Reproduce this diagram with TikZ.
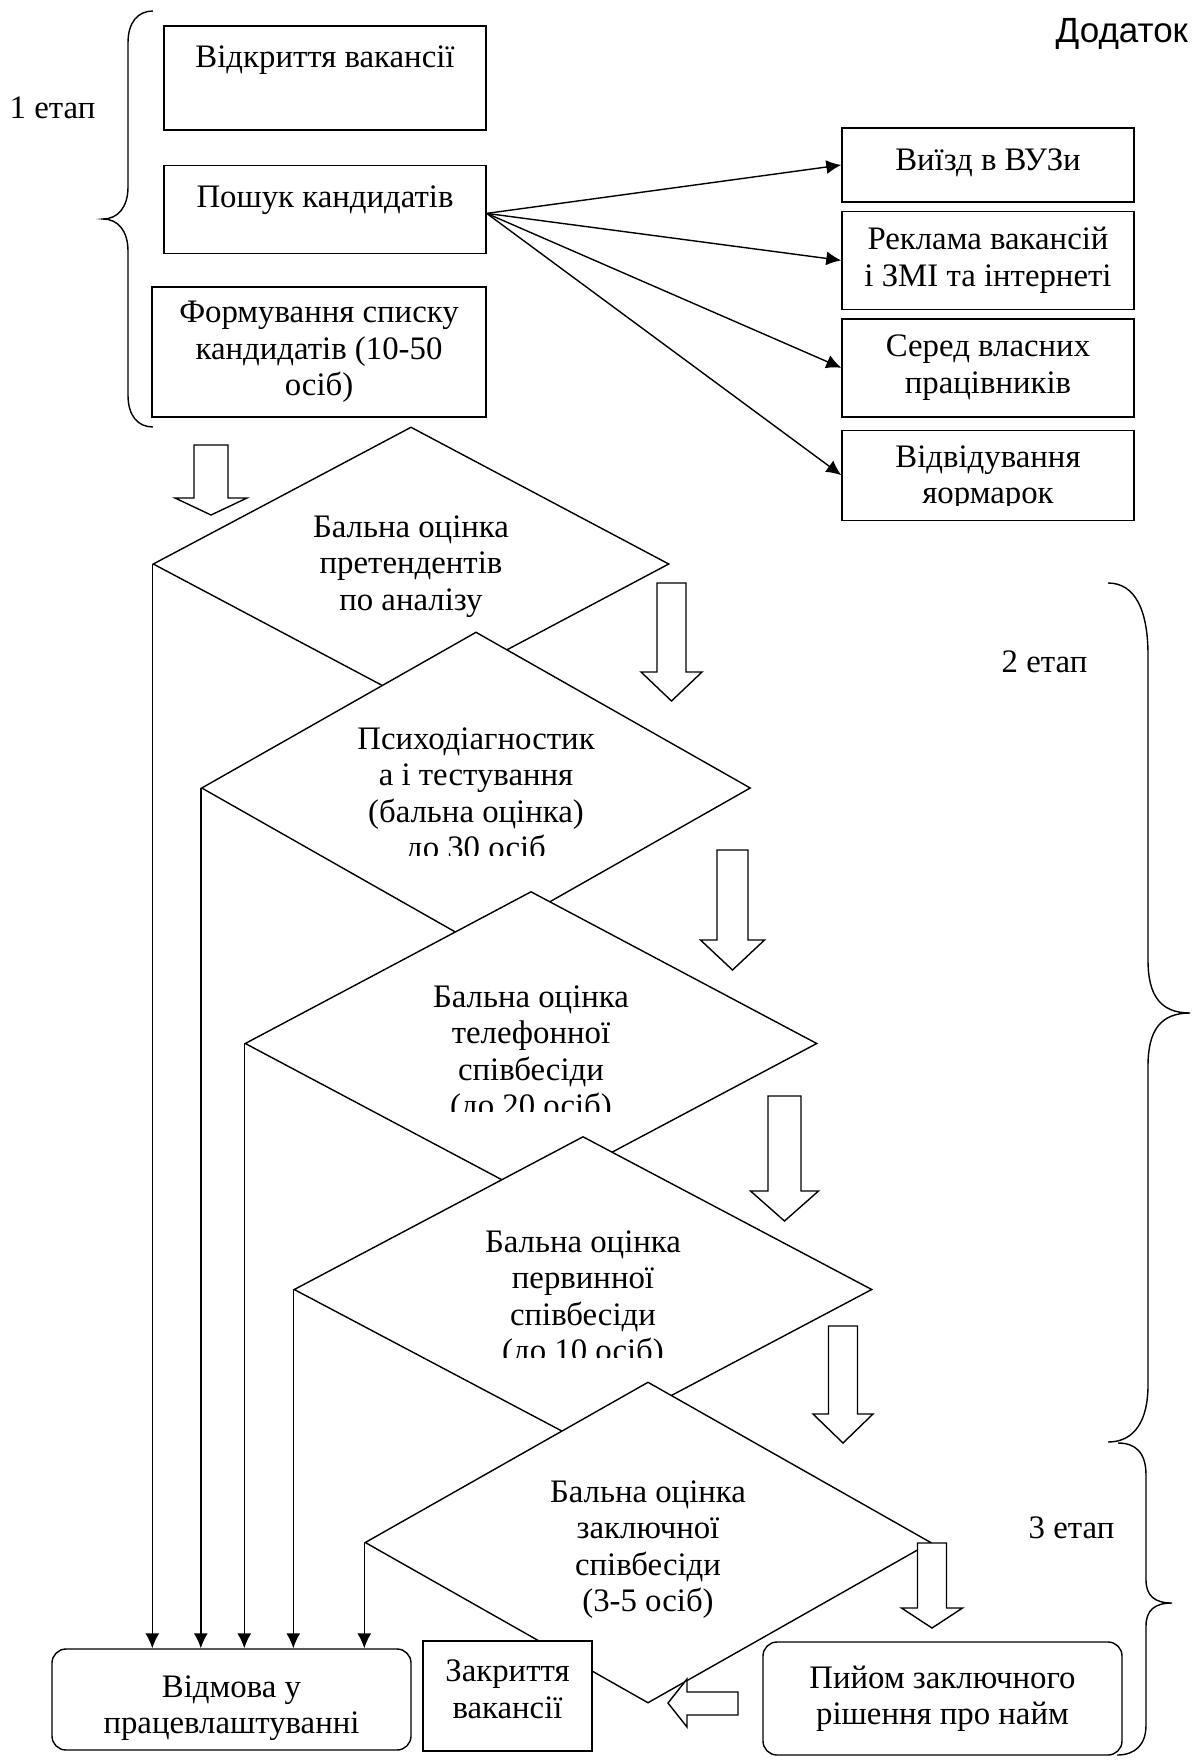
\documentclass[tikz,border=0pt]{standalone}
\usepackage{fontspec}
\setmainfont{Liberation Serif}
\newfontfamily\appfont{Liberation Sans}
\usetikzlibrary{arrows.meta,positioning,shapes.geometric}

\begin{document}
\begin{tikzpicture}[
x=0.5pt, y=-0.5pt, line width=0.7pt,
every node/.style={font=\fontsize{16.4}{18.25}\selectfont},
stagelbl/.style={anchor=west, inner sep=0pt},
procbox/.style={draw, fill=white, inner sep=0pt, align=center},
roundbox/.style={procbox, rounded corners=7pt},
decision/.style={diamond, draw, fill=white, inner sep=0pt},
dlabel/.style={align=center, anchor=north, inner sep=0pt},
lift/.style={text depth=#1},
arr/.style={-{Latex[length=7.5pt, width=7pt]}},
blockarr/.style={draw, fill=white, line join=miter}
]
\useasboundingbox (0,0) rectangle (1192,1760);

% Stage labels and braces
\node[anchor=base west, inner sep=0pt, font=\appfont\fontsize{17.5}{19}\selectfont] (app) at (1055,43) {Додаток};
\node[stagelbl] (st1) at (9,108) {1 етап};
\node[stagelbl] (st2) at (1001,662) {2 етап};
\node[stagelbl] (st3) at (1028,1528) {3 етап};
\draw (153,11) .. controls (138,11) and (128,22) .. (128,43) -- (128,187)
  .. controls (128,207) and (118,219) .. (103,219)
  .. controls (118,219) and (128,231) .. (128,251) -- (128,395)
  .. controls (128,416) and (138,427) .. (153,427);
\draw (1108,583) .. controls (1135,583) and (1148,610) .. (1148,655) -- (1148,960)
  .. controls (1148,995) and (1160,1013) .. (1190,1013)
  .. controls (1160,1013) and (1148,1031) .. (1148,1066) -- (1148,1385)
  .. controls (1148,1420) and (1135,1442) .. (1108,1442);
\draw (1118,1443) .. controls (1135,1443) and (1146,1452) .. (1146,1475) -- (1146,1580)
  .. controls (1146,1596) and (1155,1603) .. (1172,1603)
  .. controls (1155,1603) and (1146,1610) .. (1146,1626) -- (1146,1725)
  .. controls (1146,1745) and (1135,1755) .. (1117,1755);

% Stage 1
\node[procbox, minimum width=161pt, minimum height=52pt, lift=21pt] (open) at (325,78) {Відкриття вакансії};
\node[procbox, minimum width=161pt, minimum height=44pt, lift=12.5pt, below=17pt of open] (srch) {Пошук кандидатів};
\node[procbox, minimum width=167pt, minimum height=65pt, below=16pt of srch.south east, anchor=north east] (list) {Формування списку\\кандидатів (10-50\\осіб)};

% Search channels
\node[procbox, minimum width=146pt, minimum height=37pt, lift=5pt] (uni) at (988,165) {Виїзд в ВУЗи};
\node[procbox, minimum width=146pt, minimum height=49pt, below=4pt of uni] (ads) {Реклама вакансій\\і ЗМІ та інтернеті};
\node[procbox, minimum width=146pt, minimum height=49pt, below=4pt of ads] (staff) {Серед власних\\працівників};
\node[procbox, minimum width=146pt, minimum height=45pt, below=6pt of staff] (fair) {};
\begin{scope}
\clip (842,430) rectangle (1134,505);
\node[dlabel] (fairtxt) at (988,445) {Відвідування\\яормарок};
\end{scope}
\foreach \t in {uni,ads,staff,fair}
  \draw[arr] ([yshift=-2pt]srch.east) -- (\t.west);

% Stage 2 and 3 checks
\node[decision, minimum width=258pt, minimum height=137pt] (d1) at (411,564) {};
\node[dlabel] (t1) at (411,515) {Бальна оцінка\\претендентів\\по аналізу};
\node[decision, minimum width=274.5pt, minimum height=156pt] (d2) at (476,788) {};
\begin{scope}
\clip (210,700) rectangle (740,855);
\node[dlabel] (t2) at (476,727) {Психодіагностик\\а і тестування\\(бальна оцінка)\\до 30 осіб};
\end{scope}
\node[decision, minimum width=286pt, minimum height=152pt] (d3) at (531,1043.5) {};
\begin{scope}
\clip (260,960) rectangle (800,1111);
\node[dlabel] (t3) at (531,985) {Бальна оцінка\\телефонної\\співбесіди\\(до 20 осіб)};
\end{scope}
\node[decision, minimum width=289pt, minimum height=153pt] (d4) at (583,1289.5) {};
\begin{scope}
\clip (310,1200) rectangle (860,1357);
\node[dlabel] (t4) at (583,1230) {Бальна оцінка\\первинної\\співбесіди\\(до 10 осіб)};
\end{scope}
\node[decision, minimum width=283pt, minimum height=160.5pt] (d5) at (648,1542.5) {};
\node[dlabel] (t5) at (648,1480) {Бальна оцінка\\заключної\\співбесіди\\(3-5 осіб)};

% Hollow flow arrows
\foreach \cx/\yt/\yh/\yb/\sw/\hw in {211/445/498/515/17/36, 671.5/583/672/701/14.5/30.5,
  732.5/850/940/970/15.5/32, 784.5/1096/1191/1221/16.5/34, 843/1326/1414/1443/14.5/30,
  932/1543/1608/1628/14.5/30.5}
  \draw[blockarr] ({\cx-\sw},\yt) -- ({\cx+\sw},\yt) -- ({\cx+\sw},\yh) -- ({\cx+\hw},\yh)
    -- (\cx,\yb) -- ({\cx-\hw},\yh) -- ({\cx-\sw},\yh) -- cycle;

% Outcomes
\node[roundbox, minimum width=179.5pt, minimum height=50.5pt] (rej) at (231.5,1699.5) {\rule{0pt}{19.5pt}Відмова у\\працевлаштуванні};
\node[procbox, minimum width=84.5pt, minimum height=55pt] (close) at (507.5,1696) {Закриття\\вакансії\rule[-7pt]{0pt}{7pt}};
\node[roundbox, minimum width=179.5pt, minimum height=56.5pt] (hire) at (942.5,1698.5) {Пийом заключного\\рішення про найм};
\draw[blockarr] (738,1692) -- (687,1692) -- (687,1679) -- (668,1703) -- (687,1727)
  -- (687,1715) -- (738,1715) -- cycle;

% Rejections
\foreach \d in {d1,d2,d3,d4,d5}
  \draw[arr] (\d.west) -- (\d.west |- rej.north);
\end{tikzpicture}
\end{document}
